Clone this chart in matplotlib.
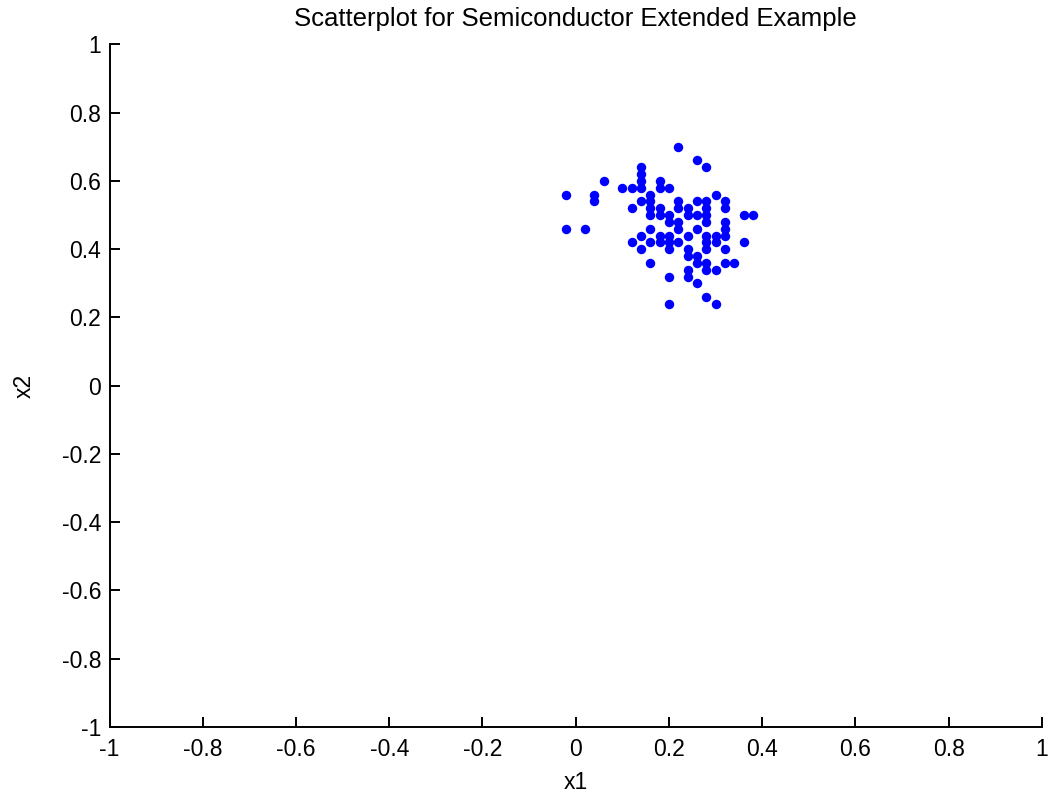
import numpy as np
import matplotlib
matplotlib.use("Agg")
import matplotlib.pyplot as plt

plt.rcParams['font.family'] = ['Liberation Sans', 'DejaVu Sans']

# semiconductor measurements (x1, x2)
x1 = [0.22, 0.26, 0.28, 0.14, 0.14, 0.06, 0.14, 0.18, 0.10, 0.12, 0.14, 0.18, 0.20,
      -0.02, 0.04, 0.16, 0.30,
      0.04, 0.14, 0.16, 0.22, 0.26, 0.28, 0.32,
      0.12, 0.16, 0.18, 0.22, 0.24, 0.28, 0.32,
      0.16, 0.18, 0.20, 0.24, 0.26, 0.28, 0.36, 0.38,
      0.20, 0.22, 0.28, 0.32,
      -0.02, 0.02, 0.16, 0.22, 0.26, 0.32,
      0.14, 0.18, 0.20, 0.24, 0.28, 0.30, 0.32,
      0.12, 0.16, 0.18, 0.20, 0.22, 0.28, 0.30, 0.36,
      0.14, 0.20, 0.24, 0.28, 0.32,
      0.24, 0.26,
      0.16, 0.26, 0.28, 0.32, 0.34,
      0.24, 0.28, 0.30,
      0.20, 0.24,
      0.26, 0.28, 0.20, 0.30]
x2 = [0.70, 0.66, 0.64, 0.64, 0.62, 0.60, 0.60, 0.60, 0.58, 0.58, 0.58, 0.58, 0.58,
      0.56, 0.56, 0.56, 0.56,
      0.54, 0.54, 0.54, 0.54, 0.54, 0.54, 0.54,
      0.52, 0.52, 0.52, 0.52, 0.52, 0.52, 0.52,
      0.50, 0.50, 0.50, 0.50, 0.50, 0.50, 0.50, 0.50,
      0.48, 0.48, 0.48, 0.48,
      0.46, 0.46, 0.46, 0.46, 0.46, 0.46,
      0.44, 0.44, 0.44, 0.44, 0.44, 0.44, 0.44,
      0.42, 0.42, 0.42, 0.42, 0.42, 0.42, 0.42, 0.42,
      0.40, 0.40, 0.40, 0.40, 0.40,
      0.38, 0.38,
      0.36, 0.36, 0.36, 0.36, 0.36,
      0.34, 0.34, 0.34,
      0.32, 0.32,
      0.30, 0.26, 0.24, 0.24]

ticks = np.round(np.arange(-1, 1.01, 0.2), 1)
tick_labels = ['-1', '-0.8', '-0.6', '-0.4', '-0.2', '0', '0.2', '0.4', '0.6', '0.8', '1']

fig = plt.figure(figsize=(10.5, 7.98), dpi=100)
ax = fig.add_axes([0.1043, 0.089, 0.888, 0.8553])

ax.plot(x1, x2, 'o', color='#0000ff', markersize=6.8, markeredgewidth=0)

ax.set_xlim(-1, 1)
ax.set_ylim(-1, 1)
ax.set_xticks(ticks)
ax.set_xticklabels(tick_labels)
ax.set_yticks(ticks)
ax.set_yticklabels(tick_labels)
ax.spines['top'].set_visible(False)
ax.spines['right'].set_visible(False)
for sp in ('left', 'bottom'):
    ax.spines[sp].set_linewidth(1.4)
ax.tick_params(direction='in', length=7, width=1.4, labelsize=16.5)
ax.tick_params(axis='x', pad=8)
ax.tick_params(axis='y', pad=6)

ax.set_xlabel('x1', fontsize=16.5, labelpad=7)
ax.set_ylabel('x2', fontsize=16.5, labelpad=19)
ax.set_title('Scatterplot for Semiconductor Extended Example', fontsize=18.5, pad=13)

fig.savefig('out.png', dpi=100)
